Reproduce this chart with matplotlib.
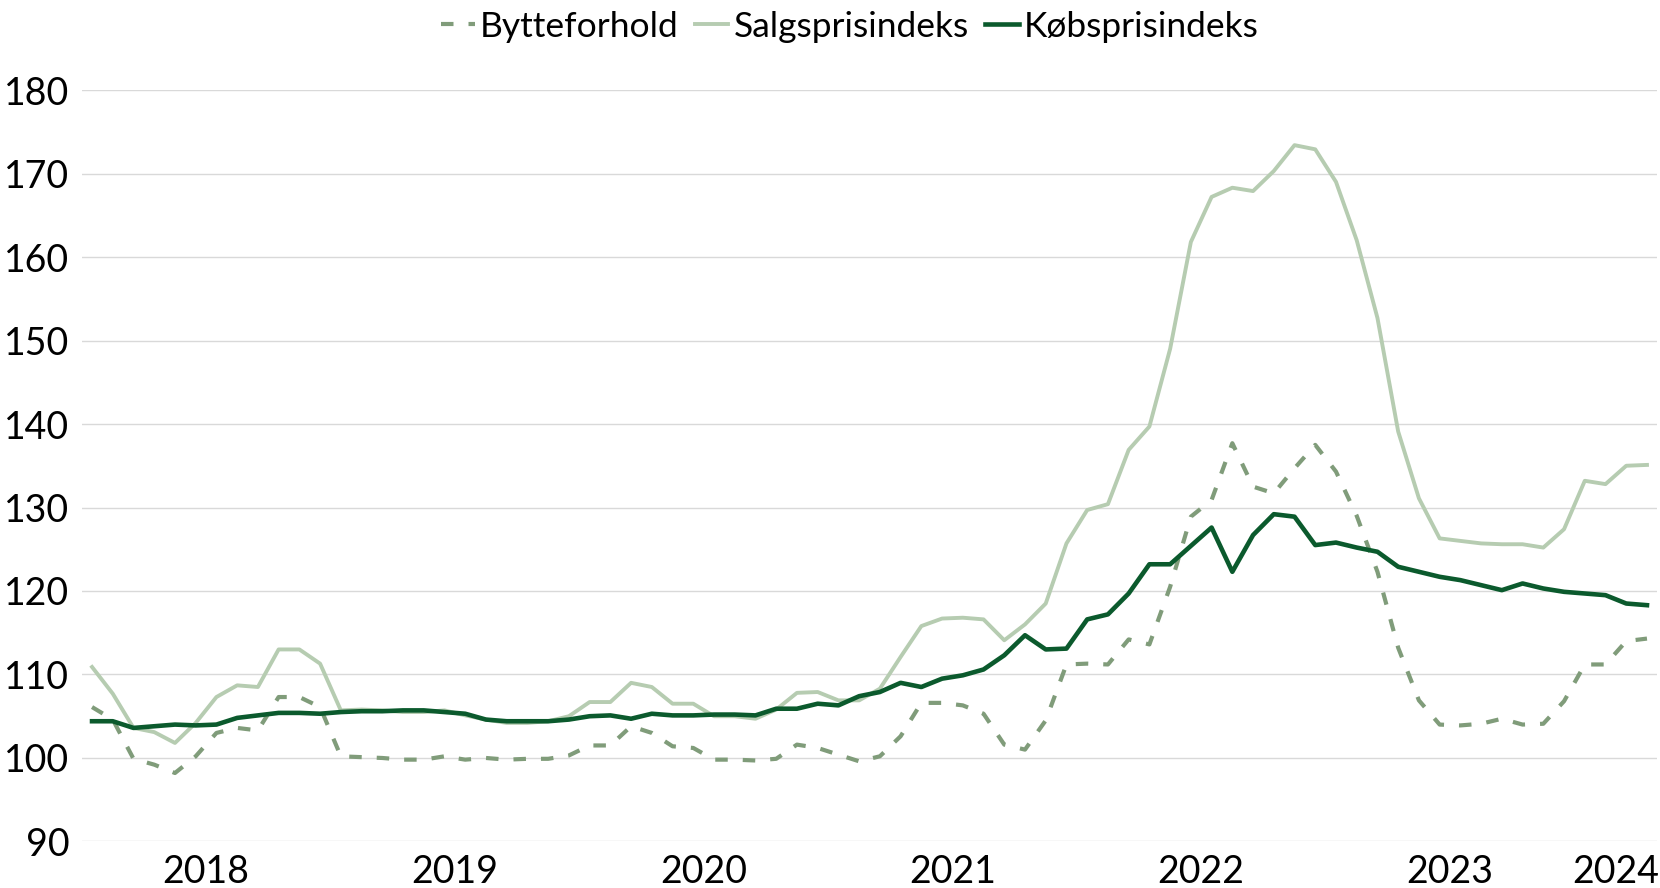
import numpy as np
import pandas as pd
import matplotlib
matplotlib.use("Agg")
from matplotlib import pyplot as plt

plt.rcParams['font.family'] = ['Lato', 'DejaVu Sans']

# månedlige indeks, januar 2018 - april 2024
months = pd.date_range("2018-01-01", periods=76, freq="MS")

salgspris = [110.9, 107.7, 103.6, 103.1, 101.8, 104.2, 107.3, 108.7, 108.5, 113.0,
             113.0, 111.3, 105.7, 105.8, 105.7, 105.5, 105.5, 105.7, 105.1, 104.6,
             104.2, 104.2, 104.4, 105.0, 106.7, 106.7, 109.0, 108.5, 106.5, 106.5,
             105.0, 105.0, 104.7, 105.8, 107.8, 107.9, 106.9, 106.9, 108.3, 112.1,
             115.8, 116.7, 116.8, 116.6, 114.1, 116.0, 118.5, 125.7, 129.7, 130.4,
             136.9, 139.7, 149.0, 161.8, 167.2, 168.3, 167.9, 170.3, 173.4, 172.9,
             169.0, 162.0, 152.7, 139.1, 131.1, 126.3, 126.0, 125.7, 125.6, 125.6,
             125.2, 127.4, 133.2, 132.8, 135.0, 135.1]

koebspris = [104.4, 104.4, 103.6, 103.8, 104.0, 103.9, 104.0, 104.8, 105.1, 105.4,
             105.4, 105.3, 105.5, 105.6, 105.6, 105.7, 105.7, 105.5, 105.3, 104.6,
             104.4, 104.4, 104.4, 104.6, 105.0, 105.1, 104.7, 105.3, 105.1, 105.1,
             105.2, 105.2, 105.1, 105.9, 105.9, 106.5, 106.3, 107.4, 107.9, 109.0,
             108.5, 109.5, 109.9, 110.6, 112.3, 114.7, 113.0, 113.1, 116.6, 117.2,
             119.7, 123.2, 123.2, 125.4, 127.6, 122.3, 126.7, 129.2, 128.9, 125.5,
             125.8, 125.2, 124.7, 122.9, 122.3, 121.7, 121.3, 120.7, 120.1, 120.9,
             120.3, 119.9, 119.7, 119.5, 118.5, 118.3]

bytteforhold = [106.1, 104.6, 99.9, 99.2, 98.2, 100.2, 103.0, 103.6, 103.3, 107.3,
                107.3, 106.1, 100.2, 100.1, 100.0, 99.8, 99.8, 100.2, 99.8, 100.0,
                99.8, 99.9, 99.9, 100.3, 101.5, 101.5, 103.8, 103.0, 101.4, 101.2,
                99.8, 99.8, 99.7, 99.9, 101.6, 101.2, 100.4, 99.6, 100.2, 102.6,
                106.6, 106.6, 106.3, 105.3, 101.6, 101.0, 104.5, 111.2, 111.3, 111.2,
                114.2, 113.6, 120.5, 128.9, 130.9, 137.7, 132.5, 131.7, 134.7, 137.5,
                134.3, 129.0, 122.3, 113.2, 106.9, 104.0, 103.9, 104.1, 104.7, 104.0,
                104.1, 106.8, 111.2, 111.2, 114.0, 114.3]

yticks = [90, 100, 110, 120, 130, 140, 150, 160, 170, 180]

c_dark = '#0b5a2d'
c_light = '#b6ccb1'
c_dash = '#809c7a'

x = np.arange(len(months))

fig = plt.figure(figsize=(16.6, 8.88), dpi=100)
ax = fig.add_axes([0.0492, 0.0524, 0.9492, 0.8462])

ax.plot(x, bytteforhold, color=c_dash, lw=3.0, dashes=(3.0, 3.6),
        dash_capstyle='butt', label='Bytteforhold', zorder=3)
ax.plot(x, salgspris, color=c_light, lw=2.8, label='Salgsprisindeks', zorder=3)
ax.plot(x, koebspris, color=c_dark, lw=3.3, label='Købsprisindeks', zorder=4)

ax.set_xlim(-0.5, len(x) - 0.5)
ax.set_ylim(90, 180)
ax.set_yticks(yticks)
ax.grid(axis='y', color='#d9d9d9', lw=1.0)
ax.set_axisbelow(True)
for s in ax.spines.values():
    s.set_visible(False)

# årstal midt under hvert års måneder
years = months.year
ylabs = sorted(set(years))
ax.set_xticks([x[years == y].mean() for y in ylabs])
ax.set_xticklabels([str(y) for y in ylabs])
ax.tick_params(axis='both', length=0, labelsize=27, colors='#000000')
ax.tick_params(axis='x', pad=9)
ax.tick_params(axis='y', pad=9)

ax.legend(loc='upper center', bbox_to_anchor=(0.512, 1.008),
          bbox_transform=fig.transFigure,
          ncol=3, frameon=False, fontsize=25.5, handlelength=0.95, handletextpad=0.15,
          columnspacing=0.45, borderaxespad=0.1)

plt.savefig('out.png', dpi=100)
